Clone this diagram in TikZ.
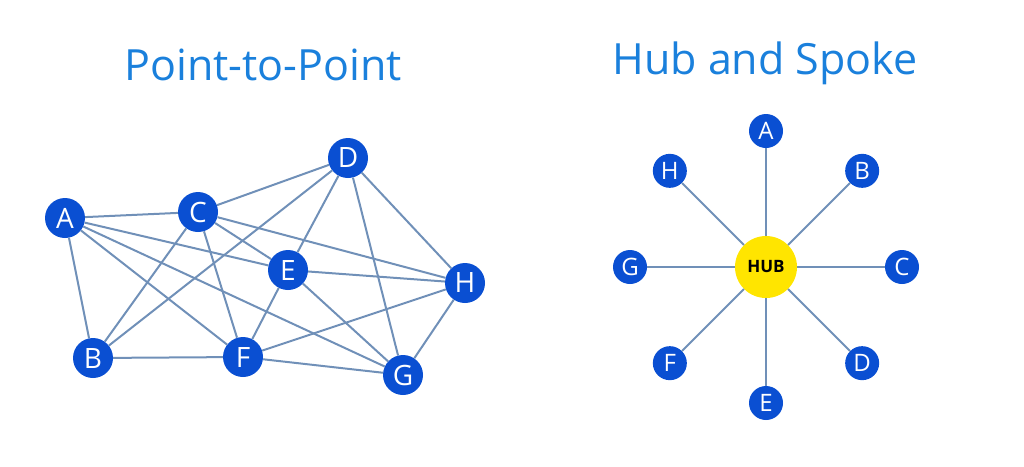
\documentclass[tikz,border=0pt]{standalone}
\usepackage{fontspec}
\setmainfont{Open Sans}
\usepackage{tikz}
\usetikzlibrary{calc}
\definecolor{ttlblue}{HTML}{1A80DC}
\definecolor{nodeblue}{HTML}{0A4FD2}
\definecolor{linkgray}{HTML}{7090B8}
\definecolor{hubyel}{HTML}{FFE500}
\tikzset{pnode/.style={circle,fill=nodeblue,text=white,minimum size=40pt,inner sep=0pt,font=\fontsize{28}{28}\selectfont},
  snode/.style={pnode,minimum size=34pt,font=\fontsize{24}{24}\selectfont},
  lnk/.style={linkgray,line width=2pt},
  ttl/.style={text=ttlblue,font=\fontsize{43}{43}\selectfont}}

\begin{document}
\begin{tikzpicture}[x=1pt,y=-1pt]
\useasboundingbox (0,0) rectangle (1024,466);
\node[ttl] (ttlp) at (263,65) {Point-to-Point};
\node[ttl] (ttlh) at (765,63) {Hub and Spoke};
% point-to-point mesh
\foreach \n/\x/\y in {A/65/218,B/93/358,C/198/212,D/348/158,E/288/270,F/243/357,G/403/375,H/465/283}
  \node[pnode] (p\n) at (\x,\y) {\n};
\foreach \a/\b in {A/B,A/C,A/E,A/F,A/G,C/D,C/E,C/H,C/B,C/F,D/B,D/E,D/G,D/H,E/H,E/F,E/G,H/F,H/G,B/F,F/G}
  \draw[lnk] (p\a)--(p\b);
% hub and spoke
\node[circle,fill=hubyel,minimum size=62pt,inner sep=0pt,font=\fontsize{17}{17}\selectfont\bfseries] (hub) at (766,267) {HUB};
\foreach \n [count=\i] in {A,B,C,D,E,F,G,H} {
  \node[snode] (h\n) at ($(hub)+({90-45*(\i-1)}:136pt)$) {\n};
  \draw[lnk] (hub)--(h\n);
}
\end{tikzpicture}
\end{document}
